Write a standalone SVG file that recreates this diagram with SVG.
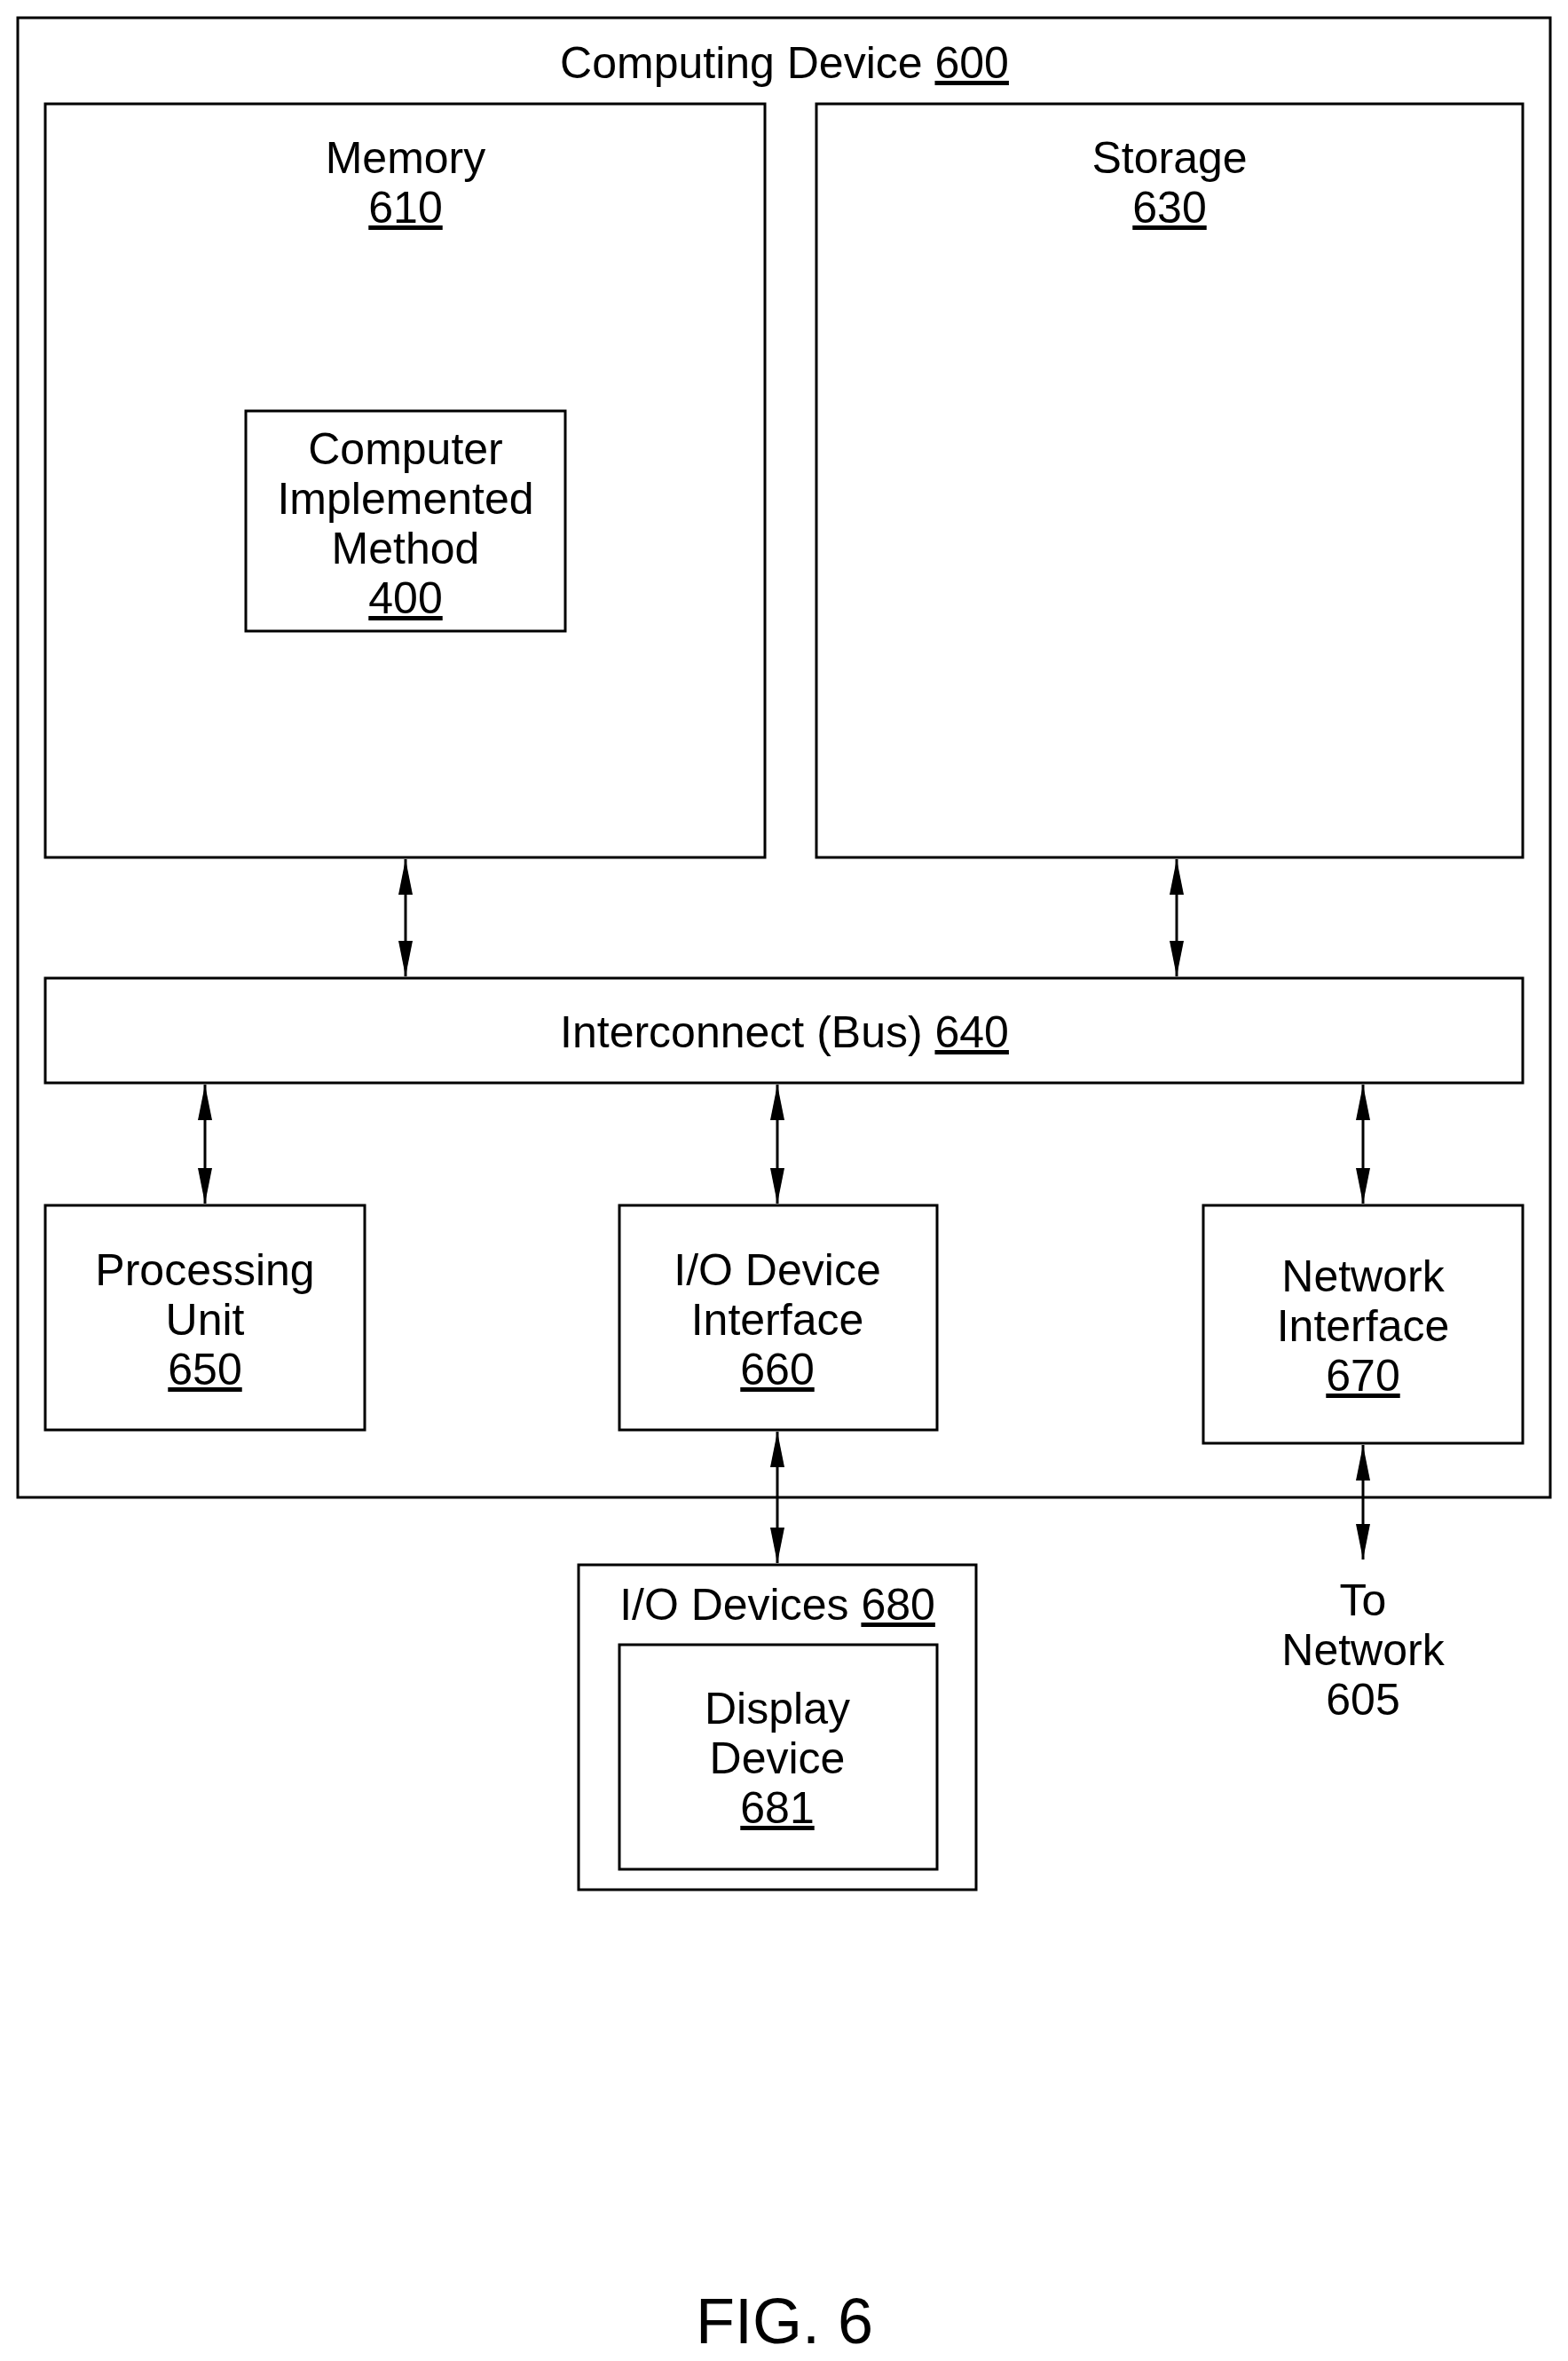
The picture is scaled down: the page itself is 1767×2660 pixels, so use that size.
<svg xmlns="http://www.w3.org/2000/svg" width="1767" height="2660" viewBox="0 0 1767 2660">
<style>
rect{fill:none;stroke:#000;stroke-width:3}
text{font-family:"Liberation Sans",Arial,sans-serif;font-size:50px;text-anchor:middle;fill:#000}
.u{text-decoration:underline}
line{stroke:#000;stroke-width:3}
</style>
<defs>
<marker id="a" viewBox="0 0 40 16" refX="40" refY="8" markerWidth="40" markerHeight="16" markerUnits="userSpaceOnUse" orient="auto-start-reverse"><path d="M0,0 L40,8 L0,16 z" fill="#000"/></marker>
</defs>
<rect x="0" y="0" width="1767" height="2660" style="fill:#fff;stroke:none"/>
<g id="computing-device"><rect x="20" y="20" width="1727" height="1667"/><text x="884" y="88">Computing Device <tspan class="u">600</tspan></text></g>
<g id="memory"><rect x="51" y="117" width="811" height="849"/><text x="457" y="195">Memory</text><text x="457" y="251" class="u">610</text></g>
<g id="method"><rect x="277" y="463" width="360" height="248"/><text x="457" y="523">Computer</text><text x="457" y="579">Implemented</text><text x="457" y="635">Method</text><text x="457" y="691" class="u">400</text></g>
<g id="storage"><rect x="920" y="117" width="796" height="849"/><text x="1318" y="195">Storage</text><text x="1318" y="251" class="u">630</text></g>
<g id="bus"><rect x="51" y="1102" width="1665" height="118"/><text x="884" y="1180">Interconnect (Bus) <tspan class="u">640</tspan></text></g>
<g id="processing"><rect x="51" y="1358" width="360" height="253"/><text x="231" y="1448">Processing</text><text x="231" y="1504">Unit</text><text x="231" y="1560" class="u">650</text></g>
<g id="io-interface"><rect x="698" y="1358" width="358" height="253"/><text x="876" y="1448">I/O Device</text><text x="876" y="1504">Interface</text><text x="876" y="1560" class="u">660</text></g>
<g id="network-interface"><rect x="1356" y="1358" width="360" height="268"/><text x="1536" y="1455">Network</text><text x="1536" y="1511">Interface</text><text x="1536" y="1567" class="u">670</text></g>
<g id="io-devices"><rect x="652" y="1763" width="448" height="366"/><text x="876" y="1825">I/O Devices <tspan class="u">680</tspan></text></g>
<g id="display"><rect x="698" y="1853" width="358" height="253"/><text x="876" y="1942">Display</text><text x="876" y="1998">Device</text><text x="876" y="2054" class="u">681</text></g>
<g id="network-label"><text x="1536" y="1820">To</text><text x="1536" y="1876">Network</text><text x="1536" y="1932">605</text></g>
<g id="connectors">
<line x1="457" y1="968" x2="457" y2="1100" marker-start="url(#a)" marker-end="url(#a)"/>
<line x1="1326" y1="968" x2="1326" y2="1100" marker-start="url(#a)" marker-end="url(#a)"/>
<line x1="231" y1="1222" x2="231" y2="1356" marker-start="url(#a)" marker-end="url(#a)"/>
<line x1="876" y1="1222" x2="876" y2="1356" marker-start="url(#a)" marker-end="url(#a)"/>
<line x1="1536" y1="1222" x2="1536" y2="1356" marker-start="url(#a)" marker-end="url(#a)"/>
<line x1="876" y1="1613" x2="876" y2="1761" marker-start="url(#a)" marker-end="url(#a)"/>
<line x1="1536" y1="1628" x2="1536" y2="1757" marker-start="url(#a)" marker-end="url(#a)"/>
</g>
<text x="884" y="2640" style="font-size:72px">FIG. 6</text>
</svg>
